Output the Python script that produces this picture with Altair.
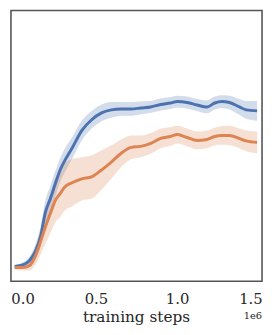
import altair as alt
import pandas as pd

# training steps in millions (1e6)
steps = [0.000, 0.050, 0.092, 0.129, 0.159, 0.189, 0.220, 0.250, 0.280, 0.310,
         0.353, 0.413, 0.474, 0.535, 0.595, 0.656, 0.717, 0.777, 0.838, 0.899,
         0.959, 1.002, 1.062, 1.123, 1.184, 1.232, 1.275, 1.323, 1.384, 1.426, 1.493]

blue_mean = [15, 16.5, 21, 31, 45, 70, 84, 99, 113, 123,
             135, 153, 164, 171, 174, 175, 175, 176, 177, 179.5,
             181, 182.5, 181.5, 179, 177, 181, 182.5, 181.5, 177, 174, 173]
blue_spread = [1.5, 2.5, 4, 7, 10, 12, 13, 13, 12, 12,
               11, 10, 9, 8.5, 8, 7, 7, 6.5, 6, 6,
               6, 6, 6, 6, 6.5, 6.5, 6.5, 7, 8, 9, 10]

orange_mean = [14, 14, 16, 26, 40, 55, 69, 82, 89, 96,
               100, 104, 106, 113, 121, 130, 136, 137, 140, 145,
               147, 149, 146, 143, 144, 147, 148, 148, 145, 142.5, 141]
orange_spread = [2, 3, 5, 9, 13, 17, 20, 22, 24, 24,
                 24, 22, 22, 20, 17, 14, 12, 11, 10.5, 10,
                 9.5, 9, 9, 9, 9, 9, 9.5, 10, 10, 10.5, 11]

tick_values = [0, 0.5, 1.0, 1.5]
series_names = ["blue", "orange"]
series_colors = ["#4c72b0", "#dd8452"]

rows = []
for name, means, spreads in [("blue", blue_mean, blue_spread),
                             ("orange", orange_mean, orange_spread)]:
    for s, m, d in zip(steps, means, spreads):
        rows.append({"step": s, "series": name, "mean": m,
                     "lo": m - d, "hi": m + d})
df = pd.DataFrame(rows)

FONT = "DejaVu Serif"

xscale = alt.Scale(domain=[-0.0230, 1.5233], nice=False, zero=False)
yscale = alt.Scale(domain=[0, 275], nice=False, zero=False)
cscale = alt.Scale(domain=series_names, range=series_colors)

xaxis = alt.Axis(values=tick_values, format=".1f", grid=False,
                 ticks=False, tickSize=0, domain=False,
                 labelFont=FONT, labelFontSize=15,
                 labelColor="#262626", labelPadding=11,
                 labelOffset={"expr": "datum.value == 0 ? 8 : (datum.value == 1.5 ? -8 : 0)"},
                 title="training steps", titleFont=FONT,
                 titleFontSize=15.5, titleFontWeight="normal",
                 titleColor="#262626", titleX=127, titleY=41,
                 titleAlign="center", titleBaseline="alphabetic")

base = alt.Chart(df)

bands = base.mark_area(opacity=0.25, interpolate="monotone").encode(
    x=alt.X("step:Q", scale=xscale, axis=xaxis),
    y=alt.Y("lo:Q", scale=yscale, axis=None),
    y2="hi:Q",
    color=alt.Color("series:N", scale=cscale, legend=None),
    detail="series:N",
)

lines = base.mark_line(strokeWidth=3, interpolate="monotone").encode(
    x=alt.X("step:Q", scale=xscale, axis=xaxis),
    y=alt.Y("mean:Q", scale=yscale, axis=None),
    color=alt.Color("series:N", scale=cscale, legend=None),
)

offset = alt.Chart(pd.DataFrame({"t": ["1e6"]})).mark_text(
    font=FONT, fontSize=10, color="#262626",
    align="right", baseline="alphabetic"
).encode(x=alt.value(255), y=alt.value(313.5), text="t:N")

chart = alt.layer(bands, lines, offset).properties(
    width=255, height=275,
    padding=0,
).configure_view(stroke="#555555", strokeWidth=1.6)

chart.save("out.html", embed_options={"renderer": "svg", "actions": False})
